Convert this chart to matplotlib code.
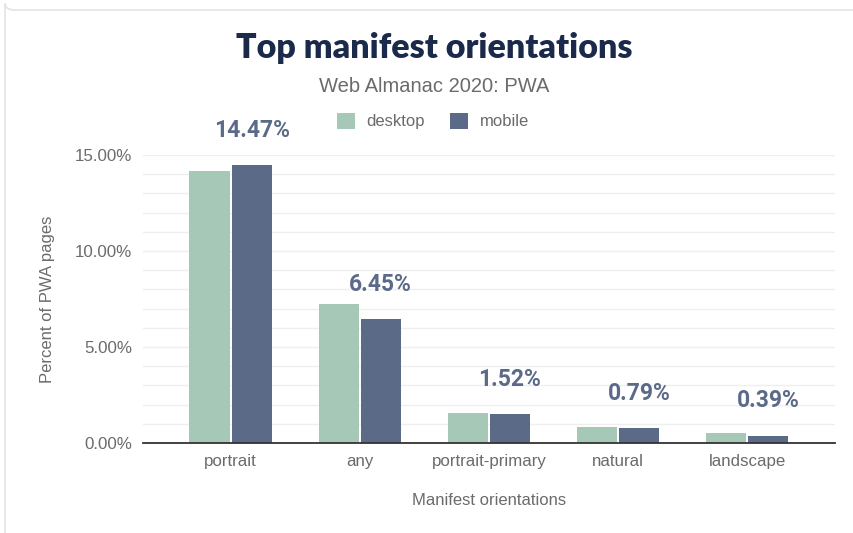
import matplotlib.pyplot as plt
import numpy as np
from matplotlib.patches import FancyBboxPatch

# Data
orientations = ["portrait", "any", "portrait-primary", "natural", "landscape"]
desktop = [14.17, 7.24, 1.56, 0.83, 0.54]
mobile = [14.47, 6.45, 1.52, 0.79, 0.39]
y_ticks = [0, 5, 10, 15]

desktop_color = "#a5c8b7"
mobile_color = "#5b6b87"
label_color = "#5b6a88"
text_gray = "#6b6b6b"

fig = plt.figure(figsize=(8.54, 5.33), dpi=100)

# Card background
card = FancyBboxPatch((5 / 854, 1 - 10 / 533), 900 / 854, -560 / 533,
                      boxstyle="round,pad=0,rounding_size=0.012",
                      transform=fig.transFigure, facecolor="white",
                      edgecolor="#e4e4e4", linewidth=1.2, zorder=-10)
fig.patches.append(card)

ax = fig.add_axes([143 / 854, 1 - 443 / 533, (835 - 143) / 854, (443 - 155) / 533])
ax.set_facecolor("none")

x = np.arange(len(orientations))
width = 0.31
offset = 0.163
ax.bar(x - offset, desktop, width, color=desktop_color, label="desktop", zorder=3)
ax.bar(x + offset, mobile, width, color=mobile_color, label="mobile", zorder=3)

# Value labels above mobile bars
for xi, v in zip(x, mobile):
    ax.text(xi + offset, v + 1.8, f"{v:.2f}%", ha="center", va="center",
            fontsize=16.5, fontweight="bold", family="Roboto",
            color=label_color, clip_on=False)

ax.set_xlim(-0.678, 4.68)
ax.set_ylim(0, 15)
ax.set_yticks(y_ticks)
ax.set_yticklabels([f"{t:.2f}%" for t in y_ticks])
ax.set_yticks(np.arange(0, 16, 1), minor=True)
ax.grid(which="both", axis="y", color="#efefef", linewidth=1, zorder=0)
ax.set_xticks(x)
ax.set_xticklabels(orientations)
ax.tick_params(axis="both", which="both", length=0, labelsize=12.2,
               labelcolor=text_gray)
ax.tick_params(axis="x", pad=8)
ax.tick_params(axis="y", pad=8)
for lbl in ax.get_xticklabels() + ax.get_yticklabels():
    lbl.set_family("Liberation Sans")

for side in ["top", "right", "left"]:
    ax.spines[side].set_visible(False)
ax.spines["bottom"].set_color("#333333")
ax.spines["bottom"].set_linewidth(1.3)
ax.spines["bottom"].set_zorder(4)

ax.set_ylabel("Percent of PWA pages", fontsize=12, color=text_gray,
              family="Liberation Sans", labelpad=14)
ax.set_xlabel("Manifest orientations", fontsize=12, color=text_gray,
              family="Liberation Sans", labelpad=17)

# Title and subtitle
fig.text(434 / 854, 1 - 48 / 533, "Top manifest orientations", ha="center", va="center",
         fontsize=24.5, fontweight="heavy", family="Lato", color="#1b2a4a")
fig.text(434 / 854, 1 - 86 / 533, "Web Almanac 2020: PWA", ha="center", va="center",
         fontsize=14.5, family="Liberation Sans", color=text_gray)

leg = ax.legend(loc="center", bbox_to_anchor=(433 / 854, 1 - 121 / 533),
                bbox_transform=fig.transFigure, ncol=2, frameon=False,
                handlelength=1.1, handleheight=1.1, handletextpad=0.7,
                columnspacing=1.5, prop={"family": "Liberation Sans", "size": 12})
for t in leg.get_texts():
    t.set_color(text_gray)

fig.savefig("out.png", dpi=100)
